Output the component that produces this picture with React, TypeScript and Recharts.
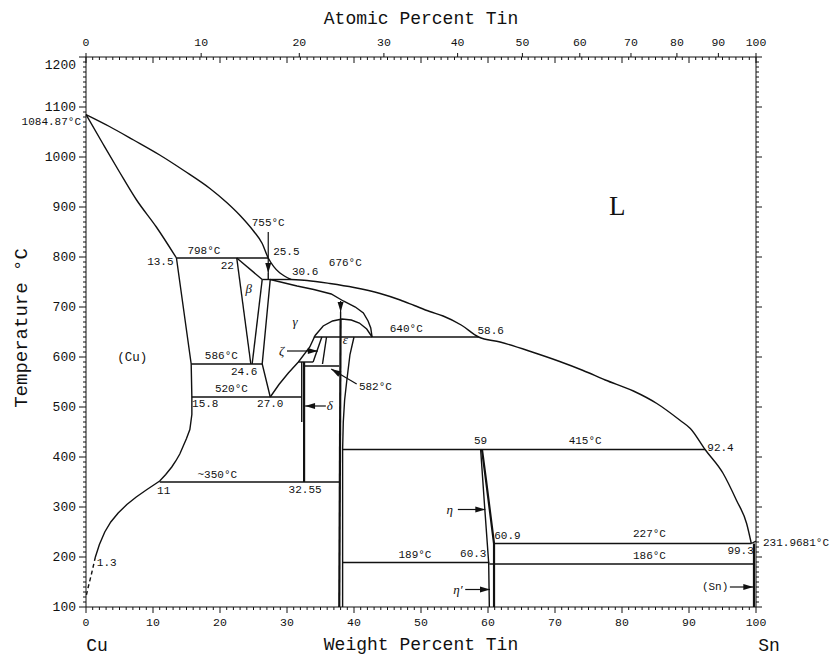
import React from 'react';
import { ComposedChart, Line, XAxis, YAxis, Scatter } from 'recharts';

type Pt = { x: number; y: number };
const toPts = (a: number[][]): Pt[] => a.map(([x, y]) => ({ x, y }));

// ---------------- axis tick values ----------------
const tempTicks = Array.from({ length: 111 }, (_, i) => 100 + i * 10);
const wtTicks = Array.from({ length: 101 }, (_, i) => i);
const atLabelTicks = [0, 10, 20, 30, 40, 50, 60, 70, 80, 90, 100];
const M_SN = 118.71;
const M_CU = 63.546;
const atToWt = (a: number) => (a === 100 ? 100 : ((a * M_SN) / (a * M_SN + (100 - a) * M_CU)) * 100);
const atWt = atLabelTicks.map(atToWt);
const topTicks = Array.from(new Set([...wtTicks, ...atWt])).sort((a, b) => a - b);

// ---------------- phase boundaries (wt% Sn, °C) ----------------
const liquidusCu = [[0, 1084.87], [3.5, 1061], [7.1, 1034], [11, 1004], [14.6, 973], [18.5, 937], [21, 909], [23, 883], [25, 852], [26.3, 827], [27.2, 798], [30.6, 755]];
const liquidusSn = [[30.6, 755], [33, 753], [36.4, 747], [40, 739], [43.9, 727], [46.9, 714], [49, 703], [51.3, 691], [53.3, 682], [56, 664], [58.6, 640], [61.8, 630], [66.8, 609], [70.5, 592], [74.2, 573], [77.5, 554], [81.7, 532], [85.2, 507], [88.7, 473], [90.2, 457], [92.4, 415], [95.1, 367], [97.1, 313], [98.6, 267], [99.3, 227]];
const snMelt = [[99.3, 227], [100, 231.97]];
const solidusCu = [[0, 1084.87], [2.5, 1027], [5, 970], [7.5, 915], [10.5, 860], [13.5, 798]];
const cuSolvusHigh = [[13.5, 798], [15.7, 586], [15.8, 520]];
const cuSolvusLow = [[15.8, 520], [15.8, 485], [15.5, 455], [15.0, 437], [14.0, 406], [13.4, 392], [12.8, 380], [11.9, 365], [11.0, 352], [9.1, 335], [7.5, 320], [6.1, 305], [4.8, 288], [3.7, 270], [2.8, 250], [2.0, 225], [1.4, 200]];
const cuSolvusDashed = [[1.4, 200], [0.8, 165], [0.3, 138], [0, 120]];
const iso798 = [[13.5, 798], [27.2, 798]];
const iso755 = [[26.3, 755], [30.6, 755]];
const iso586 = [[15.7, 586], [26.3, 586]];
const iso520 = [[15.8, 520], [32.2, 520]];
const betaLeft = [[22.5, 798], [24.6, 586]];
const betaTop = [[22.5, 798], [26.3, 755]];
const betaRight = [[26.3, 755], [24.8, 586]];
const gammaLeft = [[27.5, 755], [26.3, 586], [27.5, 520]];
const gammaSolvus = [[27.5, 520], [28.8, 545], [30.2, 568], [31.7, 590], [33.4, 620], [34.2, 643], [35.4, 662], [36.8, 672], [38.2, 676], [39.6, 674], [40.8, 668], [41.9, 656], [42.7, 640]];
const gammaSolidus = [[27.5, 755], [31.5, 742], [34, 735], [36.6, 726], [38.4, 712], [40.2, 700], [41.4, 688], [42.1, 672], [42.5, 658], [42.7, 640]];
const iso640 = [[34.0, 640], [58.6, 640]];
const zetaLeft = [[35.2, 640], [33.9, 590]];
const zetaRight = [[35.9, 640], [35.3, 586]];
const iso590 = [[31.7, 590], [33.9, 590]];
const deltaLeft = [[32.2, 590], [32.2, 470]];
const deltaRight = [[32.55, 590], [32.55, 350]];
const iso582 = [[32.55, 582], [37.8, 582]];
const epsLeft = [[38.0, 676], [37.8, 100]];
const epsRight = [[40.0, 640], [39.4, 605], [38.9, 550], [38.6, 514], [38.4, 470], [38.3, 415], [38.3, 100]];
const iso350 = [[11.0, 350], [37.8, 350]];
const iso415 = [[38.3, 415], [92.4, 415]];
const iso189 = [[38.3, 189], [60.2, 189]];
const iso186 = [[60.2, 186], [99.7, 186]];
const iso227 = [[60.9, 227], [99.3, 227]];
const etaLeft = [[58.9, 415], [59.5, 300], [60.1, 189], [60.2, 100]];
const etaRight = [[59.1, 415], [59.7, 354], [60.9, 227], [60.9, 100]];
const snSolvus = [[99.7, 227], [99.7, 100]];
const tail755 = [[27.2, 768], [27.2, 755]];
const tail676 = [[38.0, 690], [38.0, 676]];

// ---------------- pointer arrows (from, tip) ----------------
const arrows = [
  [[27.2, 850], [27.2, 768]],
  [[38.0, 712], [38.0, 690]],
  [[30.0, 612], [34.6, 612]],
  [[40.4, 546], [36.6, 576]],
  [[35.8, 502], [32.7, 502]],
  [[55.5, 295], [59.6, 295]],
  [[56.6, 135], [60.3, 135]],
  [[96.1, 140], [99.6, 140]],
];

// ---------------- annotations ----------------
const numLabels = [
  { t: '798°C', x: 17.6, y: 813 }, { t: '13.5', x: 11.1, y: 790 }, { t: '22', x: 21.1, y: 782 },
  { t: '755°C', x: 27.2, y: 869 }, { t: '25.5', x: 29.9, y: 810 }, { t: '30.6', x: 32.7, y: 771 },
  { t: '676°C', x: 38.7, y: 788 }, { t: '640°C', x: 47.8, y: 656 }, { t: '58.6', x: 60.4, y: 653 },
  { t: '586°C', x: 20.2, y: 602 }, { t: '24.6', x: 23.6, y: 571 }, { t: '520°C', x: 21.7, y: 537 },
  { t: '15.8', x: 17.8, y: 506 }, { t: '27.0', x: 27.5, y: 506 }, { t: '582°C', x: 43.2, y: 541 },
  { t: '~350°C', x: 19.6, y: 365 }, { t: '11', x: 11.6, y: 333 }, { t: '32.55', x: 32.7, y: 334 },
  { t: '1.3', x: 3.1, y: 189 }, { t: '59', x: 58.9, y: 432 }, { t: '415°C', x: 74.5, y: 432 },
  { t: '92.4', x: 94.7, y: 419 }, { t: '60.9', x: 62.9, y: 243 }, { t: '227°C', x: 84.1, y: 246 },
  { t: '99.3', x: 97.7, y: 212 }, { t: '186°C', x: 84.1, y: 203 }, { t: '189°C', x: 49.1, y: 204 },
  { t: '60.3', x: 57.8, y: 206 }, { t: '(Sn)', x: 93.9, y: 140 },
];
const phaseLabels = [{ t: '(Cu)', x: 6.9, y: 598 }];
const greekLabels = [
  { t: 'β', x: 24.3, y: 738 }, { t: 'γ', x: 31.2, y: 672 }, { t: 'ε', x: 38.7, y: 636 },
  { t: 'ζ', x: 29.2, y: 613 }, { t: 'δ', x: 36.4, y: 503 }, { t: 'η', x: 54.3, y: 295 },
  { t: 'η′', x: 55.5, y: 135 },
];
const liquidLabel = [{ t: 'L', x: 79.3, y: 902 }];
const cuMeltLabel = [{ t: '1084.87°C', x: 0, y: 1071 }];
const snMeltLabel = [{ t: '231.9681°C', x: 100, y: 229 }];

// ---------------- styling ----------------
const MONO = '"Liberation Mono", "DejaVu Sans Mono", monospace';
const SERIF = '"Liberation Serif", "DejaVu Serif", serif';
const INK = '#111';
const KX = 670 / 100;
const KY = 550 / 1100;

const curvedSeries = [liquidusCu, liquidusSn, solidusCu];
const thinSeries = [snMelt, cuSolvusHigh, cuSolvusLow, iso798, iso755, iso586, iso520,
  betaLeft, betaTop, betaRight, gammaLeft, gammaSolvus, gammaSolidus, iso640, zetaLeft, zetaRight, iso590, deltaLeft,
  iso582, epsRight, iso350, iso415, iso189, iso186, iso227, etaLeft, tail755, tail676];
const thickSeries = [deltaRight, epsLeft, etaRight, snSolvus];

function LeftTick(p: any) {
  const { x, y, payload } = p;
  const v = Math.round(payload.value);
  const major = v % 100 === 0;
  return (
    <g>
      <line x1={x} x2={x - (major ? 7 : 3)} y1={y} y2={y} stroke={INK} strokeWidth={1} />
      {major && (
        <text x={x - 10} y={y + (v === 1200 ? 8 : 0)} textAnchor="end" dominantBaseline="central" fontFamily={MONO} fontSize={13} fill={INK}>
          {v}
        </text>
      )}
    </g>
  );
}
function RightTick(p: any) {
  const { x, y, payload } = p;
  const v = Math.round(payload.value);
  const major = v % 100 === 0;
  return <line x1={x} x2={x + (major ? 6 : 3)} y1={y} y2={y} stroke={INK} strokeWidth={1} />;
}
function BottomTick(p: any) {
  const { x, y, payload } = p;
  const v = Math.round(payload.value);
  const major = v % 10 === 0;
  return (
    <g>
      <line x1={x} x2={x} y1={y} y2={y + (major ? 6 : 3)} stroke={INK} strokeWidth={1} />
      {major && (
        <text x={x} y={y + 15} textAnchor="middle" dominantBaseline="central" fontFamily={MONO} fontSize={11.5} fill={INK}>
          {v}
        </text>
      )}
    </g>
  );
}
function TopTick(p: any) {
  const { x, y, payload } = p;
  const v = payload.value;
  const atIdx = atWt.findIndex((w) => Math.abs(w - v) < 1e-9);
  const isInt = Math.abs(v - Math.round(v)) < 1e-9;
  const major = isInt && Math.round(v) % 10 === 0;
  return (
    <g>
      {isInt && <line x1={x} x2={x} y1={y} y2={y + (major ? 6 : 3)} stroke={INK} strokeWidth={1} />}
      {atIdx >= 0 && <line x1={x} x2={x} y1={y} y2={y - 4} stroke={INK} strokeWidth={1} />}
      {atIdx >= 0 && (
        <text x={x} y={y - 15} textAnchor="middle" dominantBaseline="central" fontFamily={MONO} fontSize={11.5} fill={INK}>
          {atLabelTicks[atIdx]}
        </text>
      )}
    </g>
  );
}

const topTitle = (p: any) => {
  const vb = (p && p.viewBox) || { x: 86, y: 0, width: 670, height: 57 };
  return (
    <text x={vb.x + vb.width / 2} y={vb.y + 19} textAnchor="middle" dominantBaseline="central" fontFamily={MONO} fontSize={18} fill={INK}>
      Atomic Percent Tin
    </text>
  );
};
const bottomTitle = (p: any) => {
  const vb = (p && p.viewBox) || { x: 86, y: 607, width: 670, height: 49 };
  return (
    <g>
      <text x={vb.x + vb.width / 2} y={vb.y + 38} textAnchor="middle" dominantBaseline="central" fontFamily={MONO} fontSize={18} fill={INK}>
        Weight Percent Tin
      </text>
      <text x={vb.x + 11} y={vb.y + 39} textAnchor="middle" dominantBaseline="central" fontFamily={MONO} fontSize={18} fill={INK}>
        Cu
      </text>
      <text x={vb.x + vb.width + 13} y={vb.y + 39} textAnchor="middle" dominantBaseline="central" fontFamily={MONO} fontSize={18} fill={INK}>
        Sn
      </text>
    </g>
  );
};
const leftTitle = (p: any) => {
  const vb = (p && p.viewBox) || { x: 0, y: 57, width: 86, height: 550 };
  const cx = vb.x + 22;
  const cy = vb.y + 271;
  return (
    <text x={cx} y={cy} transform={`rotate(-90 ${cx} ${cy})`} textAnchor="middle" dominantBaseline="central" fontFamily={MONO} fontSize={19} fill={INK}>
      Temperature °C
    </text>
  );
};

const textShape = (family: string, size: number, anchor: string, dx: number, italic = false) => (p: any) => (
  <text
    x={p.cx + dx}
    y={p.cy}
    textAnchor={anchor}
    dominantBaseline="central"
    fontFamily={family}
    fontSize={size}
    fontStyle={italic ? 'italic' : 'normal'}
    fill={INK}
  >
    {p.payload.t}
  </text>
);

const arrowDot = (from: number[], tip: number[]) => (p: any) => {
  const { cx, cy, index } = p;
  if (index !== 1 || cx == null) return <g key={`ad-${index}`} />;
  const dxp = (tip[0] - from[0]) * KX;
  const dyp = -(tip[1] - from[1]) * KY;
  const len = Math.hypot(dxp, dyp) || 1;
  const ux = dxp / len;
  const uy = dyp / len;
  const bx = cx - ux * 10;
  const by = cy - uy * 10;
  const nx = -uy * 3;
  const ny = ux * 3;
  return <polygon key={`ad-${index}`} points={`${cx},${cy} ${bx + nx},${by + ny} ${bx - nx},${by - ny}`} fill={INK} stroke="none" />;
};

export default function App() {
  return (
    <div style={{ position: 'absolute', left: 0, top: 0, width: 835, height: 656, background: '#fff' }}>
      <ComposedChart width={835} height={656} margin={{ top: 0, right: 0, bottom: 0, left: 0 }}>
        <XAxis xAxisId="b" type="number" dataKey="x" domain={[0, 100]} ticks={wtTicks} interval={0} orientation="bottom"
          height={49} tickSize={0} tickMargin={0} tickLine={false} axisLine={{ stroke: INK }}
          tick={(p: any) => <BottomTick {...p} />} label={bottomTitle} />
        <XAxis xAxisId="t" type="number" dataKey="x" domain={[0, 100]} ticks={topTicks} interval={0} orientation="top"
          height={57} tickSize={0} tickMargin={0} tickLine={false} axisLine={{ stroke: INK }}
          tick={(p: any) => <TopTick {...p} />} label={topTitle} />
        <YAxis yAxisId="l" type="number" dataKey="y" domain={[100, 1200]} ticks={tempTicks} interval={0} width={86}
          tickSize={0} tickMargin={0} tickLine={false} axisLine={{ stroke: INK }}
          tick={(p: any) => <LeftTick {...p} />} label={leftTitle} />
        <YAxis yAxisId="r" orientation="right" type="number" dataKey="y" domain={[100, 1200]} ticks={tempTicks} interval={0}
          width={79} tickSize={0} tickMargin={0} tickLine={false} axisLine={{ stroke: INK }}
          tick={(p: any) => <RightTick {...p} />} />

        {curvedSeries.map((s, i) => (
          <Line key={`curve-${i}`} xAxisId="b" yAxisId="l" data={toPts(s)} dataKey="y" type="monotone" stroke={INK}
            strokeWidth={1.4} dot={false} activeDot={false} isAnimationActive={false} legendType="none" />
        ))}
        {thinSeries.map((s, i) => (
          <Line key={`thin-${i}`} xAxisId="b" yAxisId="l" data={toPts(s)} dataKey="y" type="linear" stroke={INK}
            strokeWidth={1.4} dot={false} activeDot={false} isAnimationActive={false} legendType="none" />
        ))}
        {thickSeries.map((s, i) => (
          <Line key={`thick-${i}`} xAxisId="t" yAxisId="r" data={toPts(s)} dataKey="y" type="linear" stroke={INK}
            strokeWidth={2.2} dot={false} activeDot={false} isAnimationActive={false} legendType="none" />
        ))}
        <Line xAxisId="b" yAxisId="l" data={toPts(cuSolvusDashed)} dataKey="y" type="linear" stroke={INK}
          strokeWidth={1.4} strokeDasharray="4 3" dot={false} activeDot={false} isAnimationActive={false} legendType="none" />
        {arrows.map((a, i) => (
          <Line key={`arrow-${i}`} xAxisId="b" yAxisId="l" data={toPts(a)} dataKey="y" type="linear" stroke={INK}
            strokeWidth={1.2} dot={arrowDot(a[0], a[1])} activeDot={false} isAnimationActive={false} legendType="none" />
        ))}

        <Scatter xAxisId="b" yAxisId="l" data={numLabels} isAnimationActive={false} shape={textShape(MONO, 11, 'middle', 0)} />
        <Scatter xAxisId="b" yAxisId="l" data={phaseLabels} isAnimationActive={false} shape={textShape(MONO, 12.5, 'middle', 0)} />
        <Scatter xAxisId="b" yAxisId="l" data={greekLabels} isAnimationActive={false} shape={textShape(SERIF, 13, 'middle', 0, true)} />
        <Scatter xAxisId="b" yAxisId="l" data={liquidLabel} isAnimationActive={false} shape={textShape(SERIF, 27, 'middle', 0)} />
        <Scatter xAxisId="b" yAxisId="l" data={cuMeltLabel} isAnimationActive={false} shape={textShape(MONO, 11, 'end', -5)} />
        <Scatter xAxisId="b" yAxisId="l" data={snMeltLabel} isAnimationActive={false} shape={textShape(MONO, 11, 'start', 7)} />
      </ComposedChart>
    </div>
  );
}
